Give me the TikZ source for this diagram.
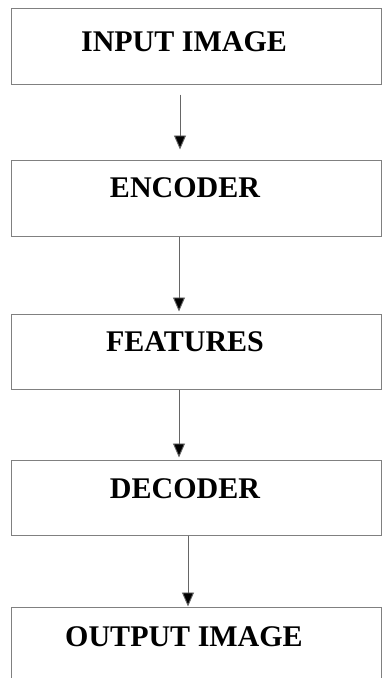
\documentclass[tikz,border=0pt]{standalone}
\usepackage{fontspec}
\setmainfont{Liberation Serif}
\usetikzlibrary{arrows.meta,positioning}

\tikzset{
  stage/.style={draw=black!50, line width=1pt, minimum width=370pt, minimum height=76pt, inner sep=0pt},
  stagetext/.style={font=\bfseries\fontsize{30}{36}\selectfont, inner sep=0pt},
  flow/.style={draw=black!60, line width=0.9pt, -{Triangle[width=12pt,length=14pt,fill=black]}}
}

\begin{document}
\begin{tikzpicture}[x=1pt,y=-1pt]
    \useasboundingbox (0,0) rectangle (382,678);
    \clip (0,0) rectangle (382,678);
    % boxes
    \node[stage] (input) at (196,46) {};
    \node[stage] (encoder) at (196,198) {};
    \node[stage, minimum height=75pt] (features) at (196,351.5) {};
    \node[stage, minimum height=75pt] (decoder) at (196,497.5) {};
    \node[stage] (output) at (196,645) {};
    % labels
    \node[stagetext] (inputtext) at (184,42) {INPUT IMAGE};
    \node[stagetext] (encodertext) at (185,188) {ENCODER};
    \node[stagetext] (featurestext) at (185,342) {FEATURES};
    \node[stagetext] (decodertext) at (185,489) {DECODER};
    \node[stagetext] (outputtext) at (184,637) {OUTPUT IMAGE};
    % arrows
    \draw[flow, shorten <=10pt, shorten >=10pt] ([xshift=-16pt]input.south) -- ([xshift=-16pt]encoder.north);
    \draw[flow, shorten >=2pt] ([xshift=-17pt]encoder.south) -- ([xshift=-17pt]features.north);
    \draw[flow, shorten >=2pt] ([xshift=-17pt]features.south) -- ([xshift=-17pt]decoder.north);
    \draw[flow] ([xshift=-8pt]decoder.south) -- ([xshift=-8pt]output.north);
  \end{tikzpicture}
\end{document}
